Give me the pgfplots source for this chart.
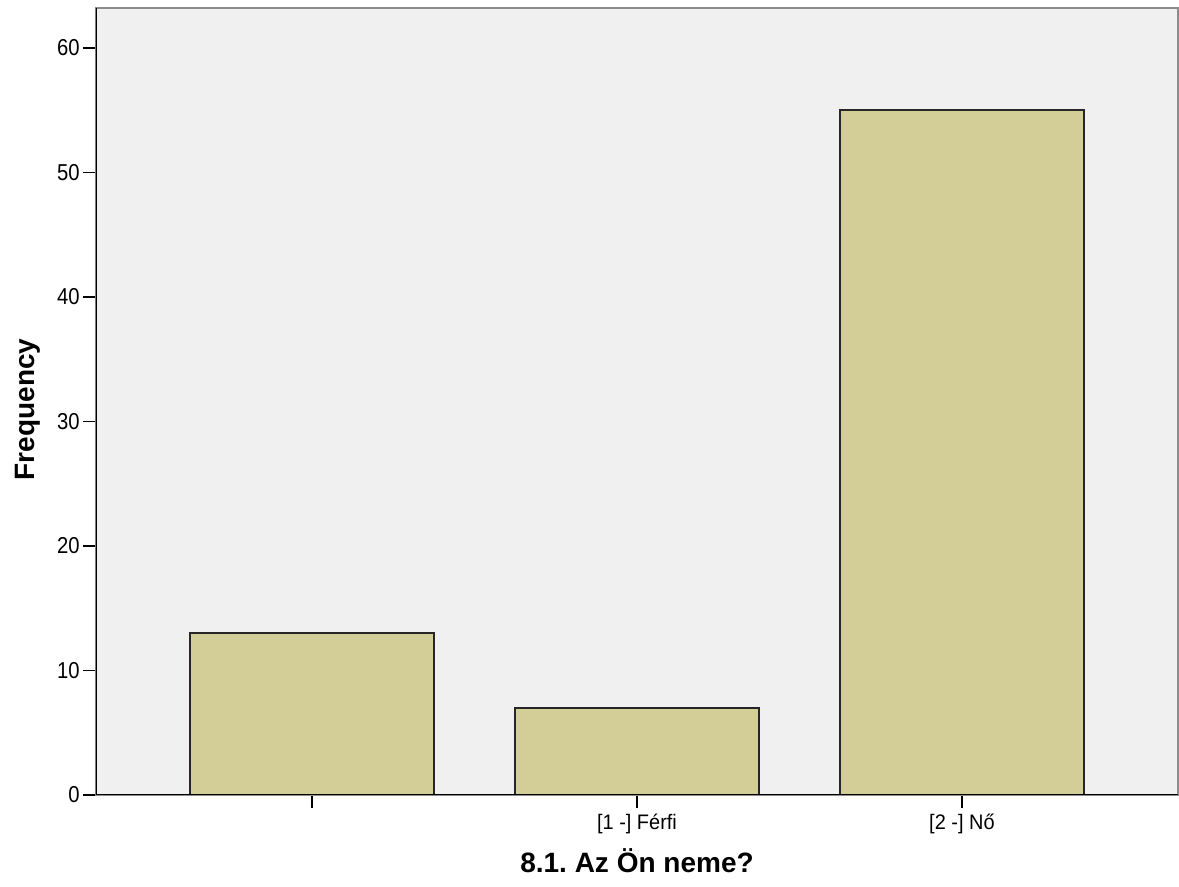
\documentclass[border=0pt]{standalone}
\usepackage{pgfplots}
\pgfplotsset{compat=1.18}
\usepackage{fontspec}
\setmainfont{Liberation Sans}
\newfontfamily\ynarrow[FakeStretch=0.88]{Liberation Sans}
\newfontfamily\xnarrow[FakeStretch=0.95]{Liberation Sans}
\definecolor{bgcol}{RGB}{240,240,240}
\definecolor{barcol}{RGB}{211,206,151}
\definecolor{framecol}{RGB}{140,140,140}
\begin{document}
\begin{tikzpicture}
\begin{axis}[
  name=ax,
  scale only axis,
  width=541pt, height=393.5pt,
  xmin=-0.665, xmax=2.665,
  ymin=0, ymax=63.2,
  xtick={0,1,2},
  xticklabels={{},{[1 -] Férfi},{[2 -] Nő}},
  ytick={0,10,20,30,40,50,60},
  tick align=outside,
  major tick length=6.5pt,
  tick style={black, line width=0.8pt},
  xtick pos=bottom, ytick pos=left,
  axis line style={draw=framecol, line width=0.8pt},
  axis background/.style={fill=bgcol},
  /pgf/number format/assume math mode=true,
  yticklabel style={font=\fontsize{11.5}{13}\selectfont\ynarrow, inner sep=1.5pt},
  xticklabel style={font=\fontsize{10.5}{12}\selectfont\xnarrow, inner sep=3pt},
  xlabel={8.1.\ Az Ön neme?},
  ylabel={Frequency},
  xlabel style={font=\fontsize{14}{16}\selectfont\bfseries, at={(axis description cs:0.5,-0.083)}, anchor=center},
  ylabel style={font=\fontsize{14}{16}\selectfont\bfseries, at={(axis description cs:-0.0633,0.49)}, anchor=center},
  ybar, bar width=0.75,
]
\addplot[fill=barcol, draw=black!85, line width=0.8pt] coordinates {(0,13) (1,7) (2,55)};
\draw[black, line width=1pt] (rel axis cs:0,1) -- (rel axis cs:0,0) -- (rel axis cs:1,0);
\end{axis}
\pgfresetboundingbox
\path ([shift={(-48pt,-46pt)}]ax.south west) rectangle ([shift={(0.5pt,4pt)}]ax.north east);
\end{tikzpicture}
\end{document}
